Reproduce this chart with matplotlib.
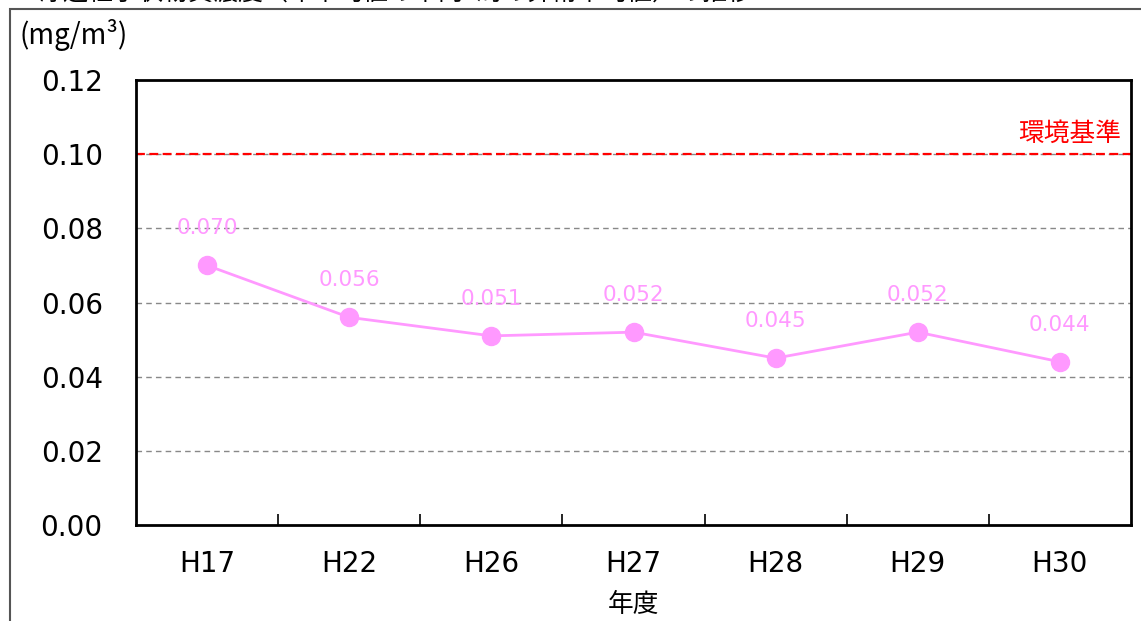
import matplotlib.pyplot as plt
import matplotlib.patches as patches
import numpy as np

plt.rcParams['font.family'] = ['DejaVu Sans', 'Noto Sans CJK JP']

years = ['H17', 'H22', 'H26', 'H27', 'H28', 'H29', 'H30']
spm = [0.070, 0.056, 0.051, 0.052, 0.045, 0.052, 0.044]
standard = 0.10
yticks = [0.00, 0.02, 0.04, 0.06, 0.08, 0.10, 0.12]
title = '浮遊粒子状物質濃度（年平均値の市内5局の算術平均値）の推移'

pink = '#FF99FF'
W, H = 1141, 621
cjk = ['Noto Sans CJK JP', 'DejaVu Sans']

fig = plt.figure(figsize=(W / 100, H / 100), dpi=100)
ax = fig.add_axes([136 / W, (H - 525) / H, 995 / W, 445 / H])

# outer frame of the original chart box
frame = patches.Rectangle((10 / W, -0.1), 1.2, 1.1 - 9 / H, transform=fig.transFigure,
                          fill=False, edgecolor='#555555', linewidth=1.5)
fig.patches.append(frame)

# title sits mostly above the image, as in the source (only glyph bottoms show)
fig.text(38 / W, 1 + 7 / H, title, ha='left', va='center', fontsize=18, family=cjk)

x = np.arange(len(years))
for v in yticks[1:-1]:
    ax.axhline(v, color='#888888', linestyle='--', dashes=(4, 3), linewidth=1, zorder=1)
ax.axhline(standard, color='red', linestyle='--', dashes=(4, 2), linewidth=1.6, zorder=2)
ax.text(6.43, standard + 0.0055, '環境基準', color='red', fontsize=18.5, ha='right', va='center',
        family=cjk)

ax.plot(x, spm, color=pink, linewidth=2, marker='o', markersize=13, zorder=3)
for xi, v in zip(x, spm):
    ax.annotate(f'{v:.3f}', (xi, v), xytext=(0, 37), textcoords='offset pixels',
                ha='center', va='center', color=pink, fontsize=15.5)

ax.set_xlim(-0.5, len(years) - 0.5)
ax.set_ylim(0, 0.12)
ax.set_yticks(yticks)
ax.set_yticklabels([f'{v:.2f}' for v in yticks])
ax.set_xticks(x)
ax.set_xticklabels(years)
ax.set_xticks(np.arange(0.5, len(years) - 1, 1), minor=True)
ax.tick_params(axis='both', which='major', length=0, labelsize=20)
ax.tick_params(axis='x', which='major', pad=18)
ax.tick_params(axis='y', which='major', pad=24)
ax.tick_params(axis='x', which='minor', direction='in', length=8, width=1.2)
for s in ax.spines.values():
    s.set_linewidth(2)

ax.set_xlabel('年度', fontsize=18.5, family=cjk, labelpad=10)
fig.text(20 / W, 1 - 35 / H, '(mg/m³)', fontsize=20, ha='left', va='center', family=cjk)

fig.savefig('out.png', dpi=100)
